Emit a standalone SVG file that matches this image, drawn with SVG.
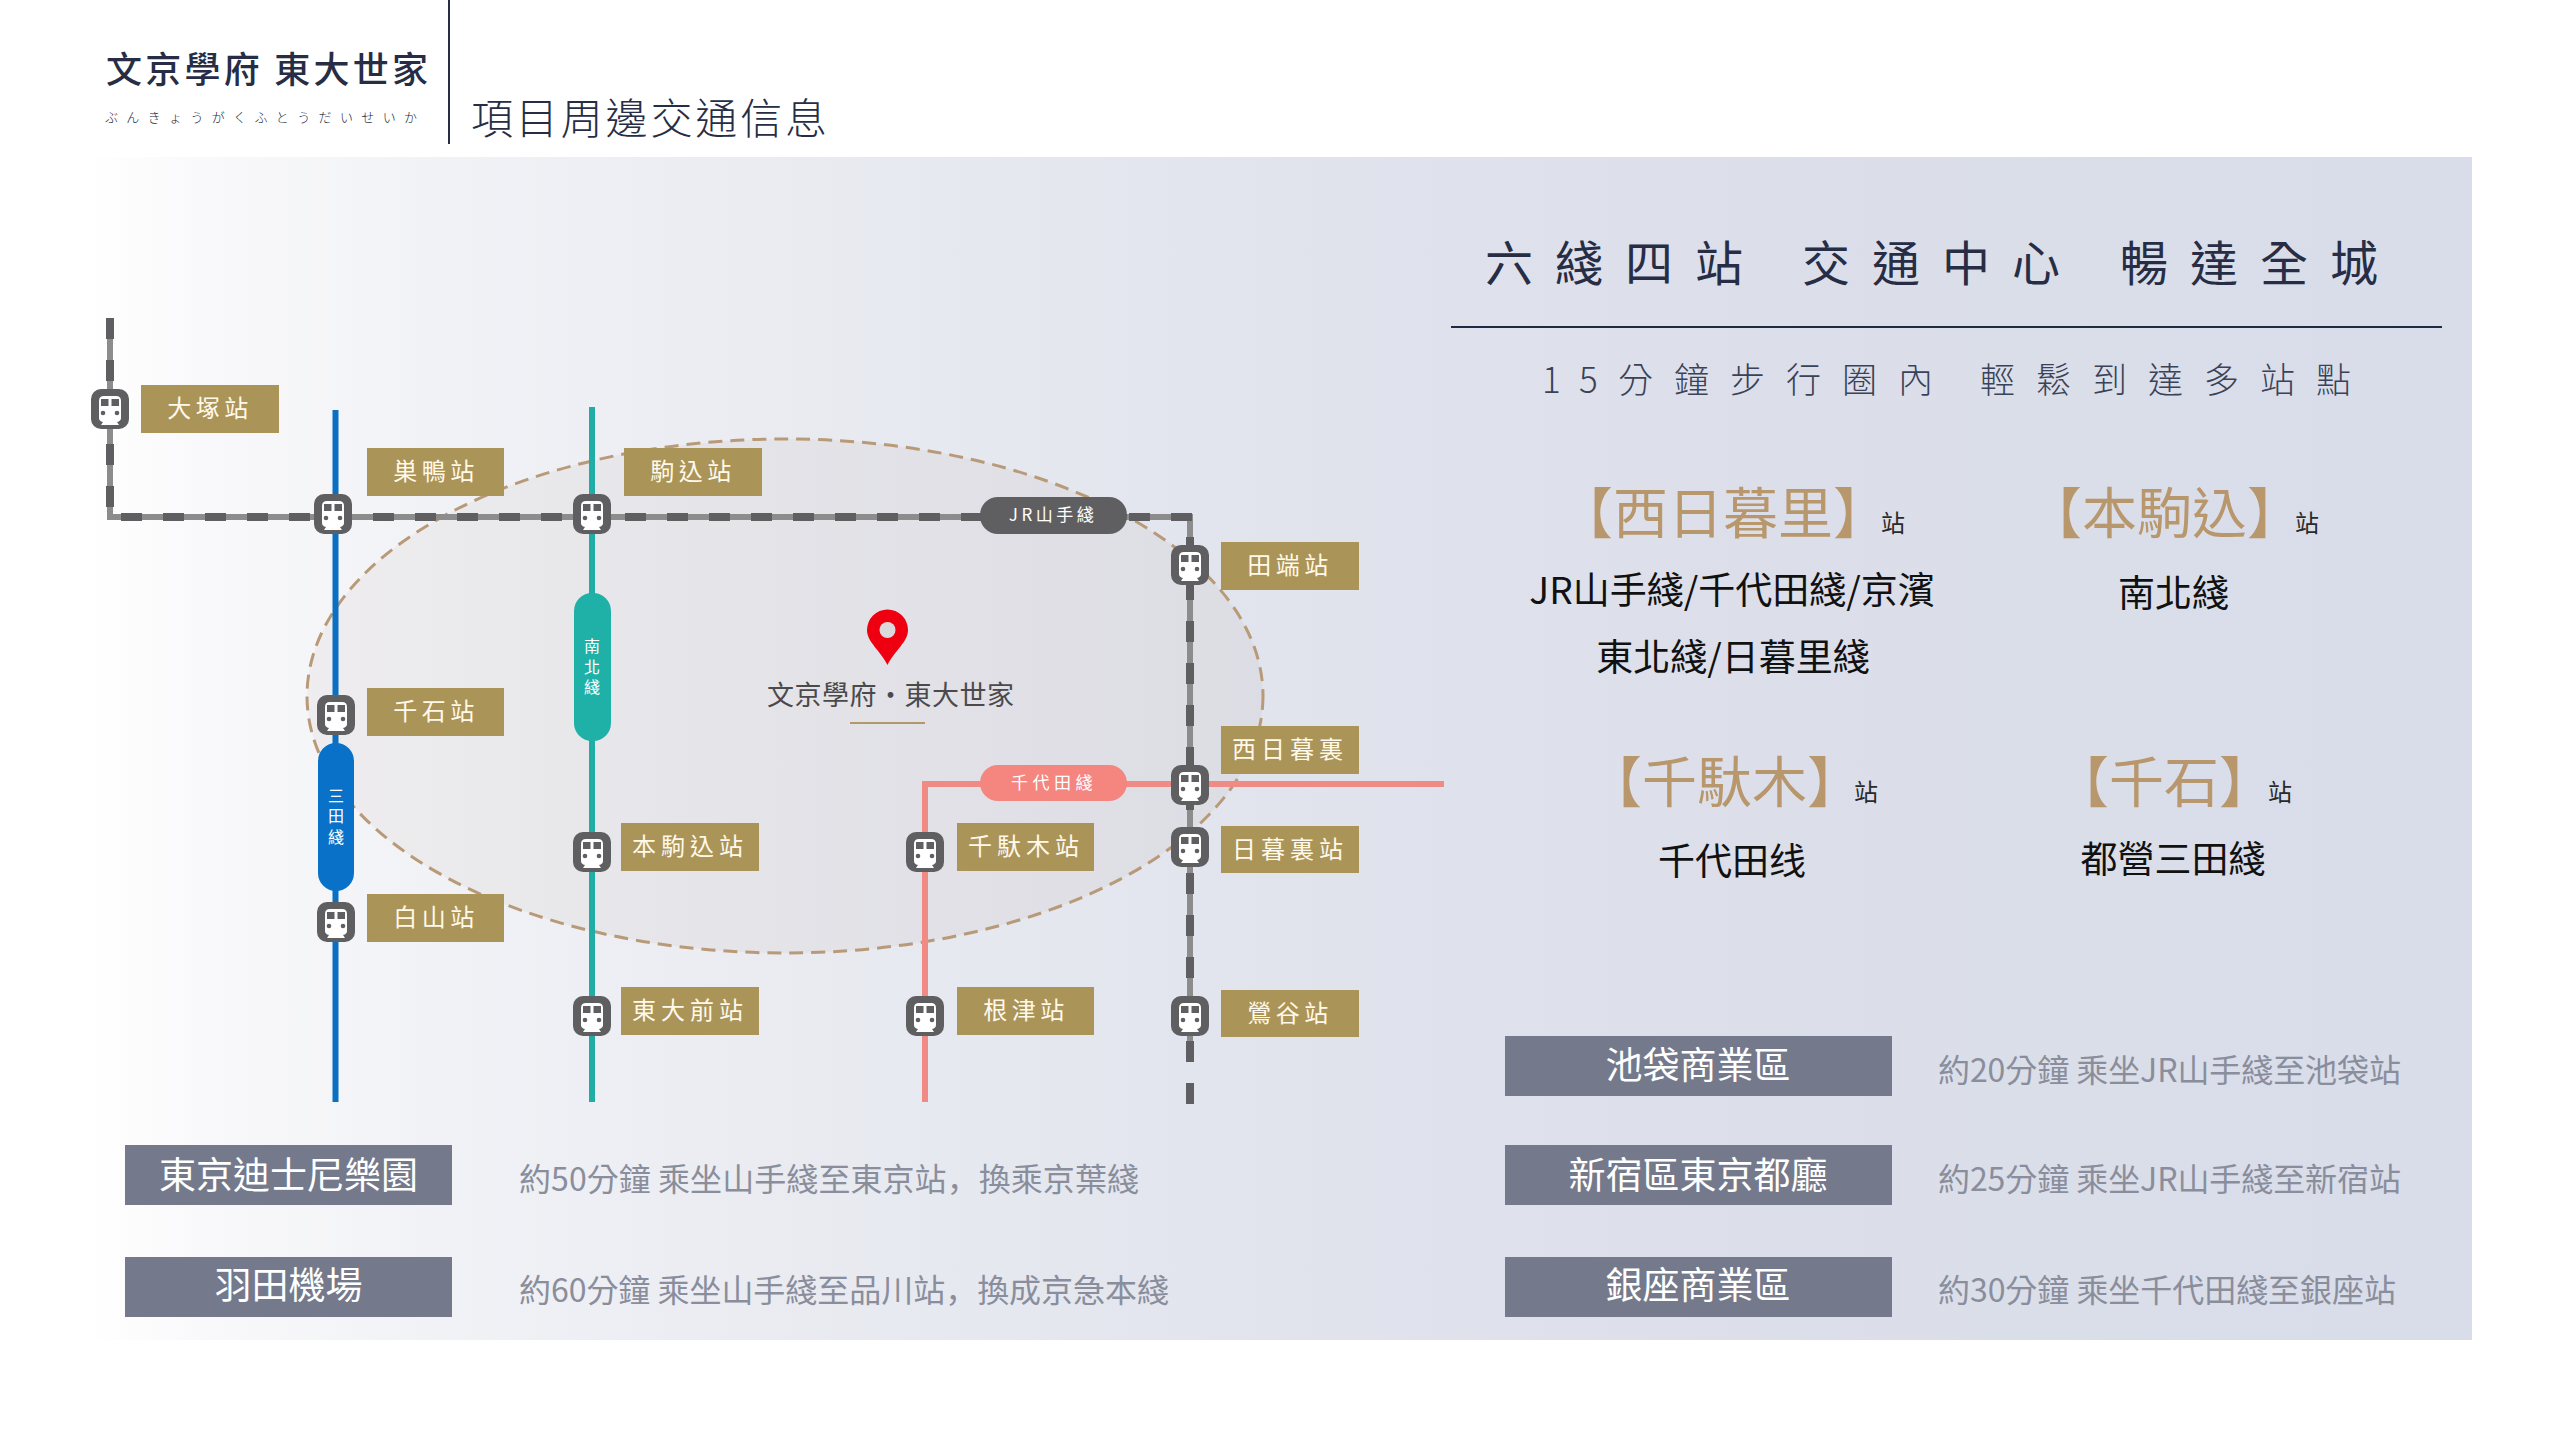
<svg xmlns="http://www.w3.org/2000/svg" width="2560" height="1440" viewBox="0 0 2560 1440">
<style>
text{font-family:"Noto Sans CJK TC","Noto Sans CJK SC",sans-serif}
.navy{fill:#262d45}
.lbl rect{fill:#ab9458}
.lbl text{fill:#fff9ea;font-size:24px;letter-spacing:4.5px;text-anchor:middle}
.lbl4 text{letter-spacing:5px}
.ic{fill:#5f5f61}
.head{fill:#b8976c;font-size:55px}
.zhan{fill:#2a2a2a;font-size:24px}
.lines{fill:#111;font-size:37px;text-anchor:middle}
.box rect{fill:#747a8c}
.box text{fill:#fff;font-size:37px;text-anchor:middle}
.desc{fill:#8a8e9c;font-size:32px}
.cm{font-family:"Noto Sans CJK SC",sans-serif}
.pill{fill:#fff;text-anchor:middle}
.l{fill:none;stroke-width:6}
</style>
<defs>
<linearGradient id="bg" x1="0" x2="1" y1="0" y2="0">
<stop offset="0" stop-color="#ffffff"/>
<stop offset="0.05" stop-color="#f9f9fb"/>
<stop offset="0.15" stop-color="#f1f2f6"/>
<stop offset="0.3" stop-color="#e9ebf1"/>
<stop offset="0.5" stop-color="#e1e4ed"/>
<stop offset="0.7" stop-color="#dcdfea"/>
<stop offset="1" stop-color="#d8dde9"/>
</linearGradient>
<g id="train">
<rect x="-19" y="-20" width="38" height="40" rx="10" class="ic"/>
<path d="M-11 -8Q-11 -13 -6 -13H6Q11 -13 11 -8V9Q11 12 7 13L9 16H-9L-7 13Q-11 12 -11 9Z" fill="#fff"/>
<rect x="-9" y="-10" width="7.500" height="7" fill="#5f5f61"/>
<rect x="1.500" y="-10" width="7.500" height="7" fill="#5f5f61"/>
<circle cx="-7" cy="4" r="2.300" fill="#5f5f61"/>
<circle cx="7" cy="4" r="2.300" fill="#5f5f61"/>
</g>
</defs>
<rect width="2560" height="1440" fill="#fff"/>
<rect x="85" y="157" width="2387" height="1183" fill="url(#bg)"/>

<g id="header">
<line x1="449" y1="0" x2="449" y2="144" stroke="#262d45" stroke-width="2"/>
<text class="navy" x="106" y="83" font-size="36" font-weight="500" textLength="322" xml:space="preserve">文京學府 東大世家</text>
<text class="navy" x="105" y="122" font-size="13" font-weight="300" textLength="312">ぶんきょうがくふとうだいせいか</text>
<text class="navy" x="471" y="134" font-size="42" font-weight="300" textLength="356">項目周邊交通信息</text>
</g>

<ellipse id="walking-circle" cx="785" cy="696" rx="478" ry="257" fill="#a8927a" fill-opacity="0.08" stroke="#b89a78" stroke-width="3" stroke-dasharray="14 8"/>

<g id="connectors">
<path class="l" stroke="#0b6fc2" d="M335.500 410V1102"/>
<path class="l" stroke="#1fada5" d="M592 407V1102"/>
<path class="l" stroke="#f08a85" d="M1444 784H925V1102"/>
<path class="l" stroke="#8c8c8c" d="M110 318V517H1190V1062"/>
<g fill="none" stroke="#5f5f61" stroke-width="8" stroke-dasharray="21 21">
<path d="M110 318V510"/>
<path d="M121 517H1194"/>
<path d="M1190 537V1104"/>
</g>
</g>

<g id="line-badges">
<g id="badge-nanboku"><rect x="574" y="593" width="37" height="148" rx="18" fill="#1fb0a8"/>
<text class="pill" font-size="16" x="592" y="652">南</text><text class="pill" font-size="16" x="592" y="673">北</text><text class="pill" font-size="16" x="592" y="693">綫</text></g>
<g id="badge-mita"><rect x="318" y="743" width="36" height="148" rx="18" fill="#0a71c9"/>
<text class="pill" font-size="16" x="336" y="802">三</text><text class="pill" font-size="16" x="336" y="822">田</text><text class="pill" font-size="16" x="336" y="843">綫</text></g>
<g id="badge-jr"><rect x="980" y="497" width="147" height="37" rx="18" fill="#5f5f61"/>
<text class="pill" font-size="17" x="1053" y="521" letter-spacing="3.500">JR山手綫</text></g>
<g id="badge-chiyoda"><rect x="980" y="765" width="147" height="36" rx="18" fill="#f4857f"/>
<text class="pill" font-size="17" x="1054" y="789" letter-spacing="4.500">千代田綫</text></g>
</g>

<g id="pin"><path d="M887.500 665C880 650 867 642 867 630A20.500 20.500 0 1 1 908 630C908 642 895 650 887.500 665Z" fill="#ee0010"/><circle cx="887.500" cy="630" r="8" fill="#dcd9dc"/></g>
<g id="site-label"><text x="767" y="705" font-size="27" fill="#4a4a4c" textLength="247">文京學府・東大世家</text>
<line x1="850" y1="723" x2="925" y2="723" stroke="#b0996a" stroke-width="2"/></g>

<g id="st-otsuka" class="lbl"><use href="#train" x="110" y="409"/><rect x="141" y="385" width="138" height="48"/><text x="210" y="417">大塚站</text></g>
<g id="st-sugamo" class="lbl"><use href="#train" x="333" y="514"/><rect x="367" y="448" width="137" height="48"/><text x="436" y="480">巣鴨站</text></g>
<g id="st-komagome" class="lbl"><use href="#train" x="592" y="514"/><rect x="624" y="448" width="138" height="48"/><text x="693" y="480">駒込站</text></g>
<g id="st-sengoku" class="lbl"><use href="#train" x="336" y="715"/><rect x="367" y="688" width="137" height="48"/><text x="436" y="720">千石站</text></g>
<g id="st-hakusan" class="lbl"><use href="#train" x="336" y="922"/><rect x="367" y="894" width="137" height="48"/><text x="436" y="926">白山站</text></g>
<g id="st-honkomagome" class="lbl lbl4"><use href="#train" x="592" y="852"/><rect x="621" y="823" width="138" height="48"/><text x="690" y="855">本駒込站</text></g>
<g id="st-todaimae" class="lbl lbl4"><use href="#train" x="592" y="1016"/><rect x="621" y="987" width="138" height="48"/><text x="690" y="1019">東大前站</text></g>
<g id="st-sendagi" class="lbl lbl4"><use href="#train" x="925" y="852"/><rect x="957" y="823" width="137" height="48"/><text x="1026" y="855">千馱木站</text></g>
<g id="st-nezu" class="lbl"><use href="#train" x="925" y="1016"/><rect x="957" y="987" width="137" height="48"/><text x="1026" y="1019">根津站</text></g>
<g id="st-tabata" class="lbl"><use href="#train" x="1190" y="565"/><rect x="1221" y="542" width="138" height="48"/><text x="1290" y="574">田端站</text></g>
<g id="st-nishinippori" class="lbl lbl4"><use href="#train" x="1190" y="785"/><rect x="1221" y="726" width="138" height="48"/><text x="1290" y="758">西日暮裏</text></g>
<g id="st-nippori" class="lbl lbl4"><use href="#train" x="1190" y="847"/><rect x="1221" y="826" width="138" height="47"/><text x="1290" y="858">日暮裏站</text></g>
<g id="st-uguisudani" class="lbl"><use href="#train" x="1190" y="1016"/><rect x="1221" y="990" width="138" height="47"/><text x="1290" y="1022">鶯谷站</text></g>

<g id="right-title">
<text class="navy" y="281" font-size="48" letter-spacing="22"><tspan x="1485">六綫四站</tspan><tspan x="1802">交通中心</tspan><tspan x="2120">暢達全城</tspan></text>
<line x1="1451" y1="327" x2="2442" y2="327" stroke="#1f2a44" stroke-width="2"/>
<text y="393" font-size="35" font-weight="300" fill="#394259" x="1542 1579 1618 1674 1730 1786 1842 1898 1980 2036 2092 2148 2204 2260 2316">15分鐘步行圈內輕鬆到達多站點</text>
</g>

<g id="sta-west"><text class="head" x="1558" y="533">【西日暮里】<tspan class="zhan" x="1881" y="532">站</tspan></text>
<text class="lines" x="1732" y="604">JR山手綫/千代田綫/京濱</text><text class="lines" x="1733" y="671">東北綫/日暮里綫</text></g>
<g id="sta-honkoma"><text class="head" x="2027" y="533">【本駒込】<tspan class="zhan" x="2295" y="532">站</tspan></text><text class="lines" x="2173.500" y="607">南北綫</text></g>
<g id="sta-sendagi"><text class="head" x="1587" y="802">【千馱木】<tspan class="zhan" x="1854" y="801">站</tspan></text><text class="lines" x="1732" y="875">千代田线</text></g>
<g id="sta-sengoku"><text class="head" x="2054" y="802">【千石】<tspan class="zhan" x="2268" y="801">站</tspan></text><text class="lines" x="2173" y="873">都營三田綫</text></g>

<g id="dest-disney" class="box"><rect x="125" y="1145" width="327" height="60"/><text x="288.500" y="1189">東京迪士尼樂園</text></g>
<text class="desc" x="519" y="1191" textLength="620" xml:space="preserve">約50分鐘 乘坐山手綫至東京站<tspan class="cm">，</tspan>換乘京葉綫</text>
<g id="dest-haneda" class="box"><rect x="125" y="1257" width="327" height="60"/><text x="288.500" y="1299">羽田機場</text></g>
<text class="desc" x="519" y="1302" textLength="650" xml:space="preserve">約60分鐘 乘坐山手綫至品川站<tspan class="cm">，</tspan>換成京急本綫</text>
<g id="dest-ikebukuro" class="box"><rect x="1505" y="1036" width="387" height="60"/><text x="1698" y="1079">池袋商業區</text></g>
<text class="desc" x="1938" y="1082" textLength="463" xml:space="preserve">約20分鐘 乘坐JR山手綫至池袋站</text>
<g id="dest-shinjuku" class="box"><rect x="1505" y="1145" width="387" height="60"/><text x="1698" y="1189">新宿區東京都廳</text></g>
<text class="desc" x="1938" y="1191" textLength="463" xml:space="preserve">約25分鐘 乘坐JR山手綫至新宿站</text>
<g id="dest-ginza" class="box"><rect x="1505" y="1257" width="387" height="60"/><text x="1698" y="1299">銀座商業區</text></g>
<text class="desc" x="1938" y="1302" textLength="458" xml:space="preserve">約30分鐘 乘坐千代田綫至銀座站</text>
</svg>
